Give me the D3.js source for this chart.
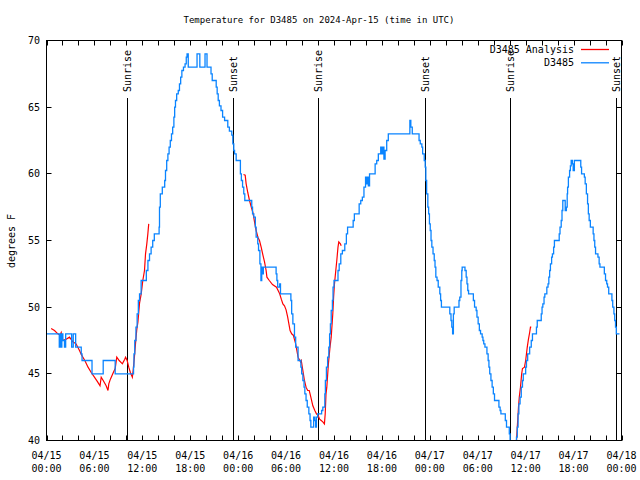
<!DOCTYPE html>
<html><head><meta charset="utf-8">
<script src="https://cdn.jsdelivr.net/npm/d3@7/dist/d3.min.js"></script>
<style>
body{margin:0;background:#fff;}
svg{display:block;}
text{font-family:"DejaVu Sans Mono",monospace;font-size:10px;fill:#000;}
</style></head><body>
<script>
// ---- data (hours after 2024-04-15 00:00 UTC, temperature in °F) ----
const title = "Temperature for D3485 on 2024-Apr-15 (time in UTC)";
const yLabel = "degrees F";
const seriesNames = ["D3485 Analysis", "D3485"];
const yTicks = [40, 45, 50, 55, 60, 65, 70];
const sunEvents = [
  {h: 10.04, label: "Sunrise"}, {h: 23.35, label: "Sunset"},
  {h: 34.0, label: "Sunrise"}, {h: 47.42, label: "Sunset"},
  {h: 58.0, label: "Sunrise"}, {h: 71.3, label: "Sunset"}
];
// observed station values (step-like)
const observed = [
[0,48],[1.6,47],[1.7,48],[1.85,47],[1.92,48],[2.05,47.5],[2.25,47],[2.4,48],[3.15,47],[3.35,48],[3.65,47],
[4.35,46.5],[4.45,46],[5.7,45],[7.1,46],[8.6,45],[10.9,45.5],[10.95,46.5],[11.05,47.5],[11.2,48.5],[11.35,49.5],[11.5,50.5],[11.65,51],[11.85,52],
[12.5,52.75],[12.7,53.5],[12.9,54],[13.1,54.5],[13.3,55],[13.5,55.5],[14.1,56],[14.15,57.5],[14.25,58.5],[14.5,59],[14.8,59.5],[14.9,60.25],[15.05,61],
[15.2,61.5],[15.35,62],[15.5,62.5],[15.65,63],[15.8,63.5],[15.95,64.25],[16.05,65],[16.15,65.5],[16.3,66],[16.5,66.25],[16.65,66.75],[16.8,67.25],
[16.95,67.75],[17.15,68],[17.35,68.25],[17.5,68.75],[17.6,69],[17.75,68],[18.85,69],[19.2,68],[19.85,69],[20.1,68],[20.6,67.5],[20.75,67],[21.25,66.5],
[21.37,66],[21.5,65.5],[21.65,65.1],[21.85,64.75],[22.05,64.25],[22.3,64],[22.7,63.5],[22.9,63.2],[23.2,62.9],[23.33,62.25],[23.45,61.75],[23.55,61.5],
[23.75,61],[24.28,60],[24.4,59.5],[24.55,59],[24.7,58.5],[24.83,58],[25.7,57.5],[25.8,57],[25.96,56.75],[26.15,56],[26.25,55.25],[26.45,54.75],
[26.55,54.25],[26.72,53.25],[26.85,52],[26.95,53],[27.05,52.5],[27.15,53],[28.75,52.5],[28.85,52],[28.95,51.5],[29.2,51.75],[29.3,51],[30.6,50.5],
[30.7,49.5],[30.85,48.75],[31.05,47.75],[31.2,47],[31.5,46],[31.85,45.5],[31.95,45],[32.1,44.5],[32.25,44],[32.35,43.5],[32.5,43],[32.65,42.5],
[32.85,42],[33.0,41.5],[33.1,41],[33.45,41.75],[33.6,41.5],[33.7,41],[33.8,41.75],[33.95,42],[34.45,42.25],[34.6,42.5],[34.85,43.5],[34.92,44.5],
[35.05,45.5],[35.2,46.25],[35.35,47],[35.45,48],[35.55,48.75],[35.65,49.75],[35.8,50.5],[35.88,51.5],[36.0,52],[36.5,52.75],[36.65,53.25],[36.85,54],
[37.05,54.25],[37.35,54.75],[37.55,55.5],[37.7,56],[38.4,56.5],[38.55,57],[39.15,57.75],[39.35,58],[39.55,58.25],[39.75,59],[39.95,59.75],[40.05,59.25],
[40.15,59.75],[40.3,59.1],[40.45,60],[41.15,60.75],[41.35,61],[41.55,61.5],[41.85,62],[41.95,61.5],[42.1,62],[42.25,61.1],[42.4,61.75],[42.6,62.5],
[42.8,63],[45.5,64],[45.62,63.5],[45.8,63],[46.65,62.5],[46.8,62.25],[47.0,62],[47.1,61.5],[47.3,61],[47.42,60.5],[47.5,59.5],[47.6,58.5],[47.75,57.5],
[47.85,57],[47.95,56.25],[48.05,55.75],[48.15,55],[48.25,54.5],[48.4,54],[48.55,53.5],[48.65,53],[48.75,52.25],[48.9,52],[49.05,51.5],[49.25,51],
[49.35,50.5],[49.45,50],[50.5,49.5],[50.65,49],[50.75,48.5],[50.85,48],[50.95,49.5],[51.05,50],[51.65,50.5],[51.75,50.75],[51.9,52],[52.0,52.75],
[52.05,53],[52.4,52.75],[52.55,52.25],[52.65,51.75],[52.75,51.25],[52.85,51],[53.45,50.5],[53.6,50],[53.8,49.75],[53.9,49.25],[54.05,48.75],[54.2,48.25],
[54.35,48],[54.55,47.75],[54.65,47.5],[54.75,47.25],[54.9,47],[55.15,46.5],[55.3,46],[55.4,45.5],[55.5,45],[55.65,44.5],[55.8,44],[55.95,43.5],[56.1,43],
[56.65,42.5],[56.8,42.25],[56.9,42],[57.45,41.5],[57.6,41],[57.95,40.5],[58.05,39.5],[58.85,40.25],[58.95,41],[59.05,42],[59.15,42.75],[59.3,43.25],
[59.45,44],[59.6,44.5],[59.7,45],[60.0,45.5],[60.1,46],[60.25,46.5],[60.5,47],[60.7,47.5],[60.85,48],[61.35,48.5],[61.45,49],[61.95,49.5],[62.05,50],
[62.15,50.25],[62.3,50.75],[62.4,51],[62.65,51.5],[62.8,51.75],[62.9,52.25],[63.0,52.75],[63.1,53.25],[63.25,53.75],[63.35,54],[63.5,54.5],[63.6,55],
[64.2,55.5],[64.3,56],[64.45,56.5],[64.55,57.25],[64.65,58],[64.95,57.25],[65.1,57.5],[65.2,58.5],[65.25,59],[65.35,59.75],[65.5,60.25],[65.6,60.6],
[65.7,61],[65.85,60.75],[65.95,60.25],[66.1,61],[66.9,60.5],[67.0,60],[67.35,59.75],[67.45,59.25],[67.6,58.5],[67.75,57.75],[67.85,57],[67.95,56.5],
[68.1,56],[68.45,55.5],[68.55,55],[68.65,54.5],[68.75,54],[69.05,53.75],[69.2,53.25],[69.3,53],[69.85,52.5],[70.0,52],[70.15,51.75],[70.25,51.5],
[70.4,51],[70.8,50.5],[70.9,50],[71.05,49.5],[71.15,49],[71.25,48.5],[71.35,48],[71.75,48]
];
// analysis values (null = gap)
const analysis = [
[0.58,48.4],[1.0,48.25],[1.42,48],[1.7,47.9],[1.84,48.1],[2.04,47.5],[2.46,47.6],[2.88,47.75],[3.3,47.4],[3.7,47.25],[4.13,46.75],[4.4,46.4],[4.8,46],
[5.2,45.5],[5.6,45.1],[6.0,44.75],[6.4,44.4],[6.7,44.1],[6.85,44.75],[7.1,44.5],[7.47,44.1],[7.7,43.75],[7.8,44.25],[8.0,44.6],[8.3,45],[8.6,45.4],
[8.8,46.25],[9.1,46],[9.5,45.75],[9.8,46.1],[9.9,46.25],[10.1,46],[10.3,45.5],[10.5,45.1],[10.75,44.75],[10.85,45.25],[11.0,46.2],[11.15,47.3],
[11.3,48.3],[11.45,48.9],[11.65,50.3],[11.86,51],[12.06,52],[12.27,52.75],[12.4,54],[12.56,54.75],[12.69,55.5],[12.8,56.25],
null,
[24.67,59.95],[24.88,59.9],[25.0,59.25],[25.2,58.6],[25.42,58],[25.6,57.6],[25.84,57.1],[26.05,56.4],[26.25,55.75],[26.47,55.25],[26.67,55],[26.88,54.5],
[27.1,53.9],[27.3,53.4],[27.5,52.75],[27.6,52.25],[27.9,52],[28.3,51.7],[28.8,51.5],[29.0,51.25],[29.2,51],[29.4,50.6],[29.6,50.25],[29.8,50.1],
[30.0,49.8],[30.2,49.25],[30.5,48.25],[30.7,48],[30.9,47.9],[31.2,47.25],[31.5,46.25],[31.8,45.9],[31.9,46],[32.1,45.25],[32.3,44.5],[32.5,44],
[32.7,43.75],[32.9,43.75],[33.1,43.25],[33.35,42.6],[33.6,42.25],[33.8,42],[34.0,41.9],[34.2,41.6],[34.4,41.5],[34.6,41.4],[34.8,41.25],[34.9,42],
[35.0,43.5],[35.1,44],[35.3,45.75],[35.5,47],[35.65,47.75],[35.85,49.5],[35.95,50.75],[36.06,51.75],[36.2,52.6],[36.35,53.5],[36.5,54.5],[36.6,54.9],
[36.8,54.75],[36.9,54.6],
null,
[58.85,40.0],[58.9,40.5],[59.0,41.5],[59.1,42.5],[59.2,43.25],[59.35,44],[59.5,45],[59.6,45.4],[59.85,45.5],[60.0,46],[60.1,46.5],[60.2,47],
[60.35,47.6],[60.5,48.1],[60.6,48.5],[60.7,48.5]
];

// ---- drawing ----
const W = 640, H = 480;
const L = 46.5, R = 621.5, T = 40.5, B = 440.5;
const t0 = Date.UTC(2024, 3, 15);
const toDate = h => new Date(t0 + h * 3600e3);
const x = d3.scaleUtc().domain([toDate(0), toDate(72)]).range([L, R]);
const y = d3.scaleLinear().domain([40, 70]).range([B, T]);
const red = "#ff0000", blue = "#0a84ff";

const svg = d3.select("body").append("svg").attr("width", W).attr("height", H);
svg.append("rect").attr("width", W).attr("height", H).attr("fill", "#fff");

svg.append("defs").append("clipPath").attr("id", "clip")
  .append("rect").attr("x", L).attr("y", T).attr("width", R - L).attr("height", B - T);

// title
svg.append("text").attr("x", 319).attr("y", 23).attr("text-anchor", "middle")
  .style("font-size", "9px").text(title);
// y label
svg.append("text").attr("transform", "translate(15,241) rotate(-90)").attr("text-anchor", "middle").text(yLabel);

// ticks
const xTickVals = d3.range(0, 73, 2).map(toDate);
const xLabelVals = d3.range(0, 73, 6).map(toDate);
const g = svg.append("g");
g.selectAll(".xtb").data(xTickVals).join("line").attr("class", "xtb")
  .attr("x1", d => Math.round(x(d)) + 0.5).attr("x2", d => Math.round(x(d)) + 0.5)
  .attr("y1", B).attr("y2", B - 5).attr("stroke", "#000");
g.selectAll(".xtt").data(xTickVals).join("line").attr("class", "xtt")
  .attr("x1", d => Math.round(x(d)) + 0.5).attr("x2", d => Math.round(x(d)) + 0.5)
  .attr("y1", T).attr("y2", T + 5).attr("stroke", "#000");
const fmtD = d3.utcFormat("%m/%d"), fmtT = d3.utcFormat("%H:%M");
const xl = g.selectAll(".xl").data(xLabelVals).join("text").attr("class", "xl")
  .attr("text-anchor", "middle");
xl.append("tspan").attr("x", d => x(d)).attr("y", 458.5).text(d => fmtD(d));
xl.append("tspan").attr("x", d => x(d)).attr("y", 471.5).text(d => fmtT(d));

g.selectAll(".ytl").data(yTicks).join("line").attr("class", "ytl")
  .attr("x1", L).attr("x2", L + 5).attr("y1", d => Math.round(y(d) - 0.5) + 0.5).attr("y2", d => Math.round(y(d) - 0.5) + 0.5).attr("stroke", "#000");
g.selectAll(".ytr").data(yTicks).join("line").attr("class", "ytr")
  .attr("x1", R).attr("x2", R - 5).attr("y1", d => Math.round(y(d) - 0.5) + 0.5).attr("y2", d => Math.round(y(d) - 0.5) + 0.5).attr("stroke", "#000");
g.selectAll(".yl").data(yTicks).join("text").attr("class", "yl")
  .attr("x", 40).attr("y", d => y(d) + 3.5).attr("text-anchor", "end").text(d => d);

// sunrise / sunset
const se = svg.append("g").selectAll("g").data(sunEvents).join("g");
se.append("line")
  .attr("x1", d => Math.round(x(toDate(d.h))) + 0.5).attr("x2", d => Math.round(x(toDate(d.h))) + 0.5)
  .attr("y1", 98).attr("y2", B).attr("stroke", "#000");
se.append("text")
  .attr("transform", d => `translate(${Math.round(x(toDate(d.h))) + 0.5},92) rotate(-90)`)
  .attr("dy", "0.35em").text(d => d.label);

// series
const plot = svg.append("g").attr("clip-path", "url(#clip)");
const lineA = d3.line().defined(d => d !== null).x(d => x(toDate(d[0]))).y(d => y(d[1]));
const lineO = d3.line().curve(d3.curveStepAfter).x(d => x(toDate(d[0]))).y(d => y(d[1]));
plot.append("path").attr("d", lineA(analysis)).attr("fill", "none").attr("stroke", red).attr("stroke-width", 1.2);
plot.append("path").attr("d", lineO(observed)).attr("fill", "none").attr("stroke", blue).attr("stroke-width", 1.3);

// legend
const lg = svg.append("g");
const legendColors = [red, blue];
seriesNames.forEach((n, i) => {
  const ly = 49.5 + i * 13.3;
  lg.append("text").attr("x", 574).attr("y", ly + 3.5).attr("text-anchor", "end").text(n);
  lg.append("line").attr("x1", 581).attr("x2", 609).attr("y1", ly).attr("y2", ly)
    .attr("stroke", legendColors[i]).attr("stroke-width", 1.3);
});

// border
svg.append("rect").attr("x", L).attr("y", T).attr("width", R - L).attr("height", B - T)
  .attr("fill", "none").attr("stroke", "#000");
</script>
</body></html>
